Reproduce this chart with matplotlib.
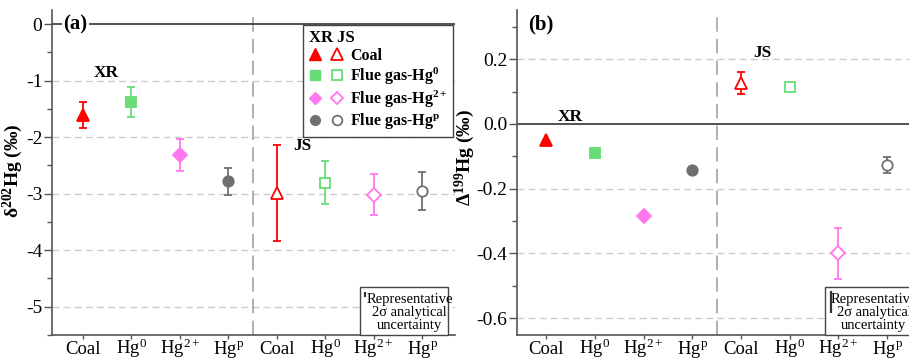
import numpy as np
import matplotlib
matplotlib.use("Agg")
import matplotlib.pyplot as plt
from matplotlib.lines import Line2D
from matplotlib.patches import Rectangle
from matplotlib.legend_handler import HandlerTuple

plt.rcParams['font.family'] = ['Liberation Serif', 'DejaVu Serif']
plt.rcParams['mathtext.fontset'] = 'custom'
plt.rcParams['mathtext.rm'] = 'Liberation Serif'
plt.rcParams['mathtext.it'] = 'Liberation Serif:italic'
plt.rcParams['mathtext.bf'] = 'Liberation Serif:bold'

# categories (XR then JS)
cats = ["Coal", r"Hg$^{0}$", r"Hg$^{2+}$", r"Hg$^{\mathrm{p}}$"]
legend_labels = ["Coal", r"Flue gas-Hg$^{\mathbf{0}}$", r"Flue gas-Hg$^{\mathbf{2+}}$",
                 r"Flue gas-Hg$^{\mathbf{p}}$"]

# (a) delta202Hg
d202_xr = [-1.60, -1.38, -2.32, -2.78]
d202_xr_err = [0.23, 0.26, 0.28, 0.24]
d202_js = [-2.99, -2.81, -3.02, -2.95]
d202_js_err = [0.85, 0.38, 0.36, 0.33]

# (b) Delta199Hg
D199_xr = [-0.05, -0.09, -0.283, -0.142]
D199_xr_err = [0, 0, 0, 0]
D199_js = [0.125, 0.113, -0.40, -0.127]
D199_js_err = [0.034, 0, 0.08, 0.025]

# representative 2 sigma analytical uncertainty
rep_2sd_a = 0.08
rep_2sd_b = 0.07

colors = ['#ff0000', '#66dd77', '#ff77ee', '#707070']
markers = ['^', 's', 'D', 'o']
msizes = [8.5, 7, 7, 7.5]


def draw_points(ax, x, y, err, color, marker, ms, filled):
    if err > 0:
        ax.errorbar(x, y, yerr=err, fmt='none', ecolor=color, elinewidth=1.3,
                    capsize=3, capthick=1.3, zorder=3)
    ax.plot(x, y, marker=marker, ms=ms, color=color, mec=color, mew=1.3,
            mfc=color if filled else 'white', ls='none', zorder=4)


def setup_axis(ax, xlim, ylim, major, minor, fmt):
    ax.set_xlim(*xlim)
    ax.set_ylim(*ylim)
    for s in ['top', 'right']:
        ax.spines[s].set_visible(False)
    for s in ['left', 'bottom']:
        ax.spines[s].set_color('#555555')
        ax.spines[s].set_linewidth(1.2)
    ax.set_xticks(np.arange(1, 9))
    ax.set_xticklabels(cats + cats, fontsize=13.5)
    ax.set_yticks(major)
    ax.set_yticks(minor, minor=True)
    ax.set_yticklabels([fmt.format(v) for v in major], fontsize=14)
    ax.tick_params(axis='both', which='both', direction='out', color='#555555', width=1)
    ax.tick_params(axis='y', which='major', length=6, pad=1)
    ax.tick_params(axis='y', which='minor', length=3.5)
    ax.tick_params(axis='x', length=3, pad=10.5)
    plt.setp(ax.get_xticklabels(), va='baseline')
    for v in major:
        if v != 0:
            ax.axhline(v, color='#cccccc', lw=1, ls=(0, (5, 3)), zorder=0)
    ax.axhline(0, color='#333333', lw=1.2, zorder=1)
    ax.axvline(4.5, color='#aaaaaa', lw=1.3, ls=(0, (8, 4)), zorder=0)


def uncertainty_box(ax, x0, x1, y0, y1, tx, ty, bx, by, rep):
    ax.add_patch(Rectangle((x0, y0), x1 - x0, y1 - y0, facecolor='white',
                           edgecolor='#444444', lw=1.0, zorder=5, clip_on=False))
    ax.text(tx, ty, 'Representative\n2σ analytical\nuncertainty', fontsize=10.5,
            ha='center', va='center', linespacing=1.0, zorder=6)
    ax.vlines(bx, by - rep / 2, by + rep / 2, color='#333333', lw=1.6, zorder=6)


fig = plt.figure(figsize=(9.09, 3.59), dpi=100)
W, H = 909, 359
ax1 = fig.add_axes([52 / W, 24 / H, (455 - 52) / W, (349 - 24) / H])
ax2 = fig.add_axes([517 / W, 24 / H, (909 - 517) / W, (349 - 24) / H])

# ---- panel (a)
setup_axis(ax1, (0.36, 8.68), (-5.5, 0.25), [0, -1, -2, -3, -4, -5],
           np.arange(-5.5, 0.01, 0.5), '{:g}')
xs = np.arange(1, 9)
for i in range(4):
    draw_points(ax1, xs[i], d202_xr[i], d202_xr_err[i], colors[i], markers[i], msizes[i], True)
    draw_points(ax1, xs[i + 4], d202_js[i], d202_js_err[i], colors[i], markers[i], msizes[i], False)
ax1.set_ylabel(r'$\mathbf{\delta^{202}}$Hg (‰)', fontsize=14, fontweight='bold')
ax1.yaxis.set_label_coords(-0.066, 0.505)
ax1.text(0.6, 0.0, '(a)', fontsize=15, fontweight='bold', va='center', ha='left',
         bbox=dict(facecolor='white', edgecolor='none', pad=1), zorder=5)
ax1.text(1.47, -0.87, 'XR', fontsize=12.5, fontweight='bold', ha='center', va='center')
ax1.text(5.53, -2.16, 'JS', fontsize=12.5, fontweight='bold', ha='center', va='center')

handles = []
for i in range(4):
    h_f = Line2D([], [], marker=markers[i], ms=msizes[i] - 0.5, color=colors[i], mfc=colors[i], ls='none')
    h_o = Line2D([], [], marker=markers[i], ms=msizes[i] - 0.5, color=colors[i], mfc='white',
                 mew=1.3, ls='none')
    handles.append((h_f, h_o))
leg = ax1.legend(handles, legend_labels, handler_map={tuple: HandlerTuple(ndivide=None, pad=0.6)},
                 loc='upper right', bbox_to_anchor=(0.995, 0.955), borderaxespad=0,
                 title='XR JS', alignment='left', fancybox=False, framealpha=1,
                 edgecolor='#444444', handlelength=2.2, handletextpad=0.4,
                 labelspacing=0.1, borderpad=0.35,
                 prop={'weight': 'bold', 'size': 11.5},
                 title_fontproperties={'weight': 'bold', 'size': 12})
leg.get_frame().set_linewidth(1.0)
leg.set_zorder(7)

uncertainty_box(ax1, 6.72, 8.54, -5.5, -4.65, 7.74, -5.10, 6.83, -4.78, rep_2sd_a)

# ---- panel (b)
setup_axis(ax2, (0.40, 8.45), (-0.652, 0.352), [0.2, 0.0, -0.2, -0.4, -0.6],
           np.arange(-0.6, 0.31, 0.1), '{:.1f}')
for i in range(4):
    draw_points(ax2, xs[i], D199_xr[i], D199_xr_err[i], colors[i], markers[i], msizes[i], True)
    draw_points(ax2, xs[i + 4], D199_js[i], D199_js_err[i], colors[i], markers[i], msizes[i], False)
ax2.set_ylabel(r'$\mathbf{\Delta^{199}}$Hg (‰)', fontsize=14, fontweight='bold')
ax2.yaxis.set_label_coords(-0.103, 0.545)
ax2.text(0.63, 0.306, '(b)', fontsize=15, fontweight='bold', va='center', ha='left')
ax2.text(1.49, 0.02, 'XR', fontsize=12.5, fontweight='bold', ha='center', va='center')
ax2.text(5.43, 0.22, 'JS', fontsize=12.5, fontweight='bold', ha='center', va='center')

uncertainty_box(ax2, 6.72, 9.2, -0.652, -0.504, 7.73, -0.581, 6.85, -0.55, rep_2sd_b)

fig.savefig('out.png', dpi=100)
